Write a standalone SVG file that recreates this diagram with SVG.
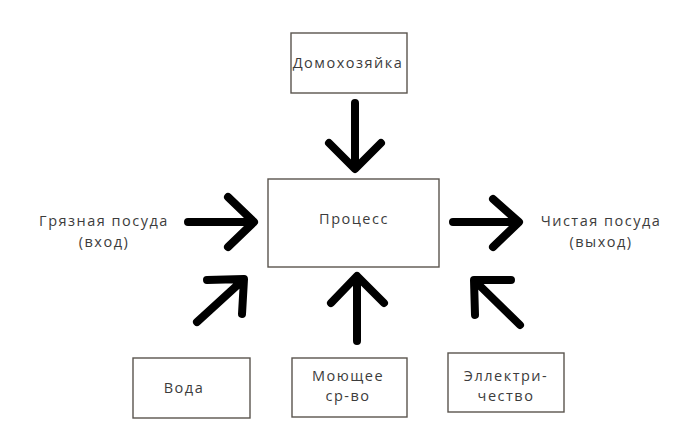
<svg xmlns="http://www.w3.org/2000/svg" width="698" height="431" viewBox="0 0 698 431">
<style>
.box{fill:#fff;stroke:#5a544e;stroke-width:1.4}
.t{font-family:"Open Sans","DejaVu Sans",sans-serif;font-size:14.5px;letter-spacing:1.5px;fill:#3c3c3c;text-anchor:middle}
.a{fill:none;stroke:#000;stroke-width:8;stroke-linecap:round;stroke-linejoin:round}
</style>
<rect width="698" height="431" fill="#fff"/>
<g id="housewife"><rect class="box" x="291" y="33" width="116" height="60"/><text class="t" x="348" y="68">Домохозяйка</text></g>
<g id="process"><rect class="box" x="268" y="179" width="171" height="88"/><text class="t" x="354" y="224">Процесс</text></g>
<g id="dirty"><text class="t" x="104" y="226">Грязная посуда</text><text class="t" x="104" y="247">(вход)</text></g>
<g id="clean"><text class="t" x="601" y="226">Чистая посуда</text><text class="t" x="601" y="247">(выход)</text></g>
<g id="water"><rect class="box" x="133" y="358" width="117" height="60"/><text class="t" x="184" y="393">Вода</text></g>
<g id="detergent"><rect class="box" x="292" y="358" width="115" height="59"/><text class="t" x="348" y="381">Моющее</text><text class="t" x="348" y="401">ср-во</text></g>
<g id="electricity"><rect class="box" x="448" y="353" width="116" height="59"/><text class="t" x="506" y="381">Эллектри-</text><text class="t" x="506" y="401">чество</text></g>
<g id="connectors">
<path class="a" d="M355 103V168M329 143L355 169L381 143"/>
<path class="a" d="M188 222H253M228 197L254 222L228 247"/>
<path class="a" d="M453 222H518M493 199L519 222L493 247"/>
<path class="a" d="M357 341V277M331 303L357 276L384 303"/>
<path class="a" d="M197 322L243 280M207 280L244 279L242 314"/>
<path class="a" d="M520 325L475 281M511 280L474 280L475 315"/>
</g>
</svg>
